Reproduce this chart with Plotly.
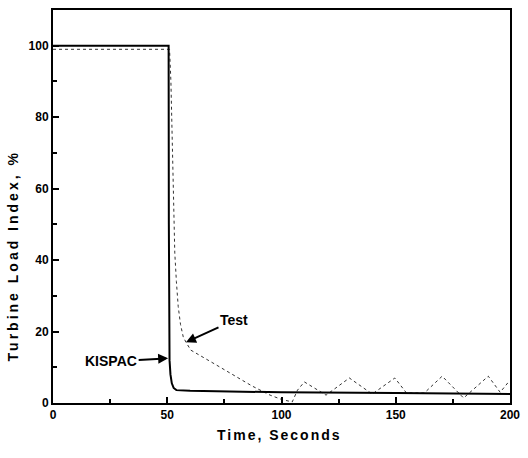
import plotly.graph_objects as go

# KISPAC (solid) simulation
kispac_time = [0, 50.6, 50.7, 50.8, 51.0, 51.4, 52.0, 52.8, 54.0, 60, 80, 100, 150, 200]
kispac_load = [100, 100, 50, 20, 12, 8, 5.5, 4.2, 3.6, 3.4, 3.2, 3.0, 2.8, 2.5]

# Test (dotted) data
test_time = [0, 51.0, 51.6, 52.2, 52.8, 53.3, 54.0, 54.8, 55.8, 57.0, 58.2, 60.3, 70, 80, 87,
             95, 100, 104.7, 107, 110, 119.5, 129.7, 139.7, 149.6, 154.7, 162.5, 170.3,
             179.7, 190.5, 195.7, 199, 200]
test_load = [99, 99, 90, 70, 52, 42, 34, 27, 22, 18.5, 17, 14.8, 11.2, 7.4, 4.8,
             2.2, 1.0, 0.3, 3.6, 5.9, 2.2, 7.0, 2.5, 7.0, 2.8, 2.8, 7.5,
             1.4, 7.5, 3.0, 5.6, 5.2]

x_ticks = [0, 50, 100, 150, 200]
y_ticks = [0, 20, 40, 60, 80, 100]

FONT = "Liberation Sans, Arial, sans-serif"

fig = go.Figure()
fig.add_trace(go.Scatter(x=test_time, y=test_load, mode="lines",
                         line=dict(color="#333333", width=1, dash="dot"),
                         showlegend=False))
fig.add_trace(go.Scatter(x=kispac_time, y=kispac_load, mode="lines",
                         line=dict(color="black", width=2),
                         showlegend=False))

axis_common = dict(showline=True, linecolor="black", linewidth=2, mirror=True,
                   ticks="inside", ticklen=6, tickwidth=1.5, tickcolor="black",
                   showgrid=False, zeroline=False,
                   tickfont=dict(family=FONT, size=12, color="black", weight="bold"))

fig.update_xaxes(range=[0, 200], tickvals=x_ticks, ticktext=[str(v) for v in x_ticks],
                 minor=dict(ticks="inside", ticklen=4, tickwidth=1.5, tickcolor="black", dtick=25, tick0=0),
                 **axis_common)
fig.update_yaxes(range=[0, 110], tickvals=y_ticks, ticktext=[str(v) for v in y_ticks],
                 minor=dict(ticks="inside", ticklen=4, tickwidth=1.5, tickcolor="black", dtick=10, tick0=0),
                 **axis_common)

fig.add_annotation(x=58.2, y=17, xref="x", yref="y", text="Test",
                   showarrow=True, arrowhead=2, arrowsize=1, arrowwidth=2, arrowcolor="black",
                   ax=48, ay=-22,
                   font=dict(family=FONT, size=14, color="black", weight="bold"))
fig.add_annotation(x=50.4, y=12.5, xref="x", yref="y", text="KISPAC",
                   showarrow=True, arrowhead=2, arrowsize=1, arrowwidth=2, arrowcolor="black",
                   ax=-57, ay=3,
                   font=dict(family=FONT, size=14, color="black", weight="bold"))

fig.add_annotation(x=0.496, y=-0.081, xref="paper", yref="paper",
                   text='<span style="letter-spacing:2px">Time, Seconds</span>',
                   showarrow=False, xanchor="center", yanchor="middle",
                   font=dict(family=FONT, size=14, color="black", weight="bold"))
fig.add_annotation(x=-0.088, y=0.375, xref="paper", yref="paper",
                   text='<span style="letter-spacing:3px">Turbine Load Index, %</span>',
                   showarrow=False, xanchor="center", yanchor="middle", textangle=-90,
                   font=dict(family=FONT, size=14, color="black", weight="bold"))

fig.update_layout(width=528, height=458,
                  margin=dict(l=53, r=11, t=8, b=55),
                  paper_bgcolor="white", plot_bgcolor="white")

fig.write_html("out.html")
